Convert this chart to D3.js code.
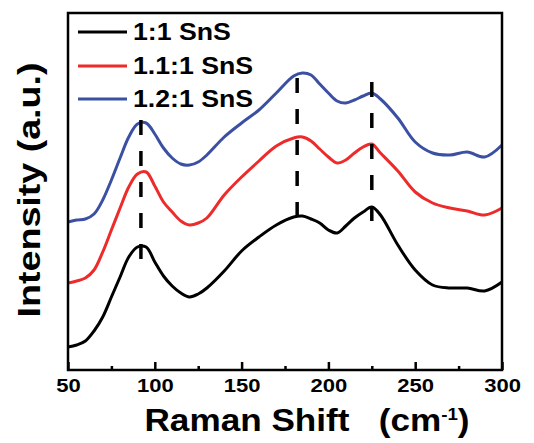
<!DOCTYPE html>
<html>
<head>
<meta charset="utf-8">
<script src="https://cdn.jsdelivr.net/npm/d3@7"></script>
<style>
  body { margin: 0; background: #fff; }
  svg { display: block; }
  text { font-family: "Liberation Sans", Arial, sans-serif; font-weight: bold; fill: #000; }
</style>
</head>
<body>
<div id="chart"></div>
<script>
// --- Data ---
const ramanShift = [50, 55, 60, 65, 70, 75, 80, 85, 90, 95, 100, 105, 110, 115, 120, 125, 130,
  140, 150, 160, 170, 180, 185, 190, 195, 200, 205, 210, 215, 220, 225, 230, 240, 250, 260, 270, 280, 290, 300];

const sns11 = [23, 25, 29, 39, 53, 73, 93, 113, 123, 123, 108, 94, 84, 77, 73, 76, 82,
  99, 119, 133, 145, 153, 154, 151, 147, 140, 137, 144, 152, 158, 163, 155, 125, 100, 85, 82, 82, 79, 88];

const sns111 = [87, 89, 92, 100, 118, 140, 162, 183, 196, 198, 184, 168, 158, 149, 145, 147, 152,
  175, 193, 209, 224, 232, 233, 229, 221, 213, 207, 210, 217, 223, 226, 217, 199, 178, 167, 162, 159, 155, 162];

const sns121 = [148, 150, 151, 156, 170, 190, 212, 233, 246, 247, 236, 222, 212, 206, 205, 208, 215,
  233, 247, 260, 277, 294, 297, 295, 286, 277, 269, 267, 270, 274, 277, 271, 252, 228, 217, 215, 218, 213, 225];

const seriesNames = ["1:1 SnS", "1.1:1 SnS", "1.2:1 SnS"];
const seriesColors = ["#000000", "#ee2b2b", "#3b50a3"];

// dashed peak markers: position and vertical extent (intensity units)
const peakX = [92, 182, 225];
const peakTop = [250, 292, 288];
const peakBottom = [103, 142, 147];

const majorTicks = [50, 100, 150, 200, 250, 300];
const minorTicks = [75, 125, 175, 225, 275];

// --- Layout ---
const width = 534, height = 443;
const margin = { top: 13, right: 32, bottom: 73, left: 68 };
const innerW = width - margin.left - margin.right;
const innerH = height - margin.top - margin.bottom;
const stretch = 1.16; // text in the reference is a bit wide

const svg = d3.select("#chart").append("svg")
  .attr("width", width)
  .attr("height", height);

const g = svg.append("g").attr("transform", `translate(${margin.left},${margin.top})`);

const x = d3.scaleLinear().domain([50, 300]).range([0, innerW]);
const y = d3.scaleLinear().domain([0, 357]).range([innerH, 0]);

function widen(sel, k) {
  sel.each(function () {
    const w = this.getComputedTextLength();
    d3.select(this).attr("textLength", w * k).attr("lengthAdjust", "spacingAndGlyphs");
  });
}

// --- Curves ---
const line = d3.line()
  .x(d => x(d[0]))
  .y(d => y(d[1]))
  .curve(d3.curveCatmullRom.alpha(0.5));

[sns11, sns111, sns121].forEach((vals, i) => {
  g.append("path")
    .datum(ramanShift.map((v, j) => [v, vals[j]]))
    .attr("fill", "none")
    .attr("stroke", seriesColors[i])
    .attr("stroke-width", 3)
    .attr("stroke-linejoin", "round")
    .attr("d", line);
});

// --- Dashed peak lines ---
g.selectAll(".peak")
  .data(peakX)
  .join("line")
  .attr("class", "peak")
  .attr("x1", d => x(d)).attr("x2", d => x(d))
  .attr("y1", (d, i) => y(peakTop[i]))
  .attr("y2", (d, i) => y(peakBottom[i]))
  .attr("stroke", "#000")
  .attr("stroke-width", 3.5)
  .attr("stroke-dasharray", "15,16");

// --- Frame ---
g.append("rect")
  .attr("width", innerW).attr("height", innerH)
  .attr("fill", "none").attr("stroke", "#000").attr("stroke-width", 2.5);

// --- X axis (ticks inward) ---
const xAxis = g.append("g").attr("transform", `translate(0,${innerH})`)
  .call(d3.axisBottom(x).tickValues(majorTicks).tickSize(-8).tickFormat(d3.format("d")));
xAxis.select(".domain").remove();
xAxis.selectAll(".tick line").attr("stroke-width", 2.5);
xAxis.selectAll(".tick text")
  .attr("dy", null).attr("y", 22)
  .style("font-size", "19px").style("font-family", "'Liberation Sans', Arial, sans-serif")
  .style("font-weight", "bold").attr("fill", "#000")
  .call(widen, stretch);

const xMinor = g.append("g").attr("transform", `translate(0,${innerH})`)
  .call(d3.axisBottom(x).tickValues(minorTicks).tickSize(-4).tickFormat(""));
xMinor.select(".domain").remove();
xMinor.selectAll(".tick line").attr("stroke-width", 2.5);

// --- Axis titles ---
const xTitle = svg.append("text")
  .attr("x", 307).attr("y", 431)
  .attr("text-anchor", "middle")
  .style("font-size", "32px")
  .style("white-space", "pre")
  .attr("textLength", 325).attr("lengthAdjust", "spacingAndGlyphs");
xTitle.append("tspan").text("Raman Shift   (cm");
xTitle.append("tspan").attr("dy", -11).style("font-size", "17px").text("-1");
xTitle.append("tspan").attr("dy", 11).text(")");

svg.append("text")
  .attr("transform", "translate(40,190) rotate(-90)")
  .attr("text-anchor", "middle")
  .style("font-size", "32px")
  .attr("textLength", 255).attr("lengthAdjust", "spacingAndGlyphs")
  .text("Intensity (a.u.)");

// --- Legend ---
const legendY = [32, 66, 99];
const legend = svg.append("g");
seriesNames.forEach((name, i) => {
  legend.append("line")
    .attr("x1", 78).attr("x2", 127)
    .attr("y1", legendY[i]).attr("y2", legendY[i])
    .attr("stroke", seriesColors[i]).attr("stroke-width", 3);
  legend.append("text")
    .attr("x", 133).attr("y", legendY[i] + 8)
    .style("font-size", "23px")
    .text(name)
    .call(widen, stretch);
});
</script>
</body>
</html>
